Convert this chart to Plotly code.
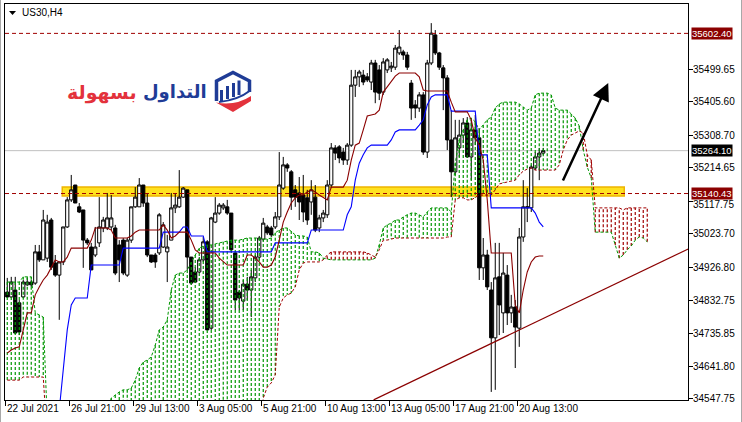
import plotly.graph_objects as go

# ---------------- data ----------------
BARS = list(range(135))

OPEN = [34856, 34842, 34862, 34825, 34842, 34877, 34885, 34882, 34972, 34949,
        34954, 35064, 34940, 34905, 34943, 35044, 35122, 35165, 35102, 35093,
        35006, 34986, 34963, 34998, 35041, 35041, 35044, 35041, 34992, 35006,
        34905, 35006, 35102, 35102, 35165, 35113, 34963, 34963, 34969, 34986,
        34972, 35006, 35099, 35102, 35130, 35151, 34957, 34914, 34914, 34949,
        35001, 34752, 35058, 35084, 35099, 35102, 35084, 34969, 34856, 34830,
        34879, 34862, 34897, 34957, 35009, 35044, 35041, 35044, 35073, 35156,
        35223, 35203, 35151, 35142, 35136, 35128, 35116, 35130, 35041, 35070,
        35079, 35165, 35272, 35275, 35260, 35237, 35280, 35453, 35477, 35482,
        35477, 35462, 35517, 35497, 35433, 35497, 35503, 35505, 35546, 35549,
        35540, 35459, 35396, 35387, 35425, 35260, 35517, 35598, 35546, 35503,
        35474, 35295, 35203, 35272, 35309, 35344, 35246, 35324, 35301, 34926,
        34963, 34862, 34724, 34900, 34796, 34905, 34796, 34813, 34752, 35015,
        35099, 35099, 35214, 35246, 35257]
HIGH = [34897, 34900, 34900, 34833, 34891, 34897, 34891, 34992, 34992, 35093,
        35079, 35070, 34963, 34943, 35044, 35130, 35194, 35165, 35113, 35093,
        35012, 34998, 35044, 35130, 35073, 35142, 35136, 35050, 35006, 35012,
        35012, 35102, 35159, 35185, 35165, 35142, 34963, 34969, 35084, 35058,
        35021, 35142, 35142, 35208, 35159, 35151, 34957, 34928, 34957, 35015,
        35006, 35073, 35130, 35113, 35113, 35122, 35084, 34969, 34862, 34891,
        34900, 34920, 34963, 35018, 35070, 35050, 35047, 35087, 35260, 35246,
        35228, 35208, 35165, 35188, 35194, 35151, 35179, 35165, 35079, 35093,
        35179, 35286, 35280, 35280, 35272, 35286, 35497, 35497, 35497, 35497,
        35488, 35526, 35526, 35511, 35531, 35531, 35520, 35569, 35612, 35555,
        35549, 35468, 35410, 35433, 35433, 35526, 35632, 35612, 35549, 35511,
        35482, 35381, 35353, 35353, 35358, 35361, 35353, 35367, 35329, 35012,
        34978, 34885, 34998, 34998, 34969, 34934, 34848, 34833, 35041, 35179,
        35156, 35223, 35260, 35272, 35272]
LOW = [34839, 34839, 34735, 34732, 34839, 34874, 34871, 34877, 34943, 34949,
       34943, 34920, 34900, 34776, 34934, 35041, 35116, 35113, 35084, 34926,
       34992, 34920, 34957, 34986, 35029, 35035, 35035, 34905, 34885, 34905,
       34900, 34998, 35099, 35102, 35102, 34957, 34940, 34926, 34963, 34983,
       34885, 35006, 35084, 35099, 35128, 34920, 34877, 34882, 34911, 34943,
       34747, 34747, 35055, 35079, 35093, 35079, 34972, 34804, 34804, 34804,
       34833, 34784, 34885, 34949, 35003, 35021, 35015, 35038, 35064, 35151,
       35203, 35093, 35102, 35064, 35058, 35050, 35079, 35029, 35029, 35058,
       35070, 35156, 35237, 35228, 35223, 35223, 35275, 35419, 35448, 35453,
       35462, 35439, 35401, 35410, 35425, 35488, 35491, 35497, 35540, 35526,
       35497, 35353, 35358, 35376, 35252, 35243, 35511, 35540, 35497, 35381,
       35266, 35130, 35194, 35246, 35286, 35243, 35179, 35280, 34891, 34891,
       34862, 34568, 34574, 34732, 34738, 34761, 34767, 34637, 34698, 35001,
       35058, 35087, 35208, 35179, 35252]
CLOSE = [34842, 34885, 34738, 34741, 34885, 34885, 34877, 34972, 34949, 35064,
         35058, 34928, 34905, 34943, 35044, 35122, 35151, 35113, 35087, 35006,
         34998, 34920, 34986, 35044, 35064, 35070, 35070, 34911, 34949, 34911,
         35006, 35102, 35130, 35165, 35113, 34963, 34943, 34943, 35079, 35050,
         34986, 35099, 35107, 35130, 35156, 34957, 34882, 34885, 34949, 35001,
         34747, 35070, 35084, 35107, 35107, 35084, 34978, 34833, 34839, 34879,
         34862, 34900, 34957, 35012, 35055, 35027, 35021, 35073, 35165, 35223,
         35214, 35130, 35130, 35116, 35087, 35064, 35151, 35035, 35070, 35084,
         35165, 35272, 35257, 35243, 35237, 35280, 35453, 35477, 35491, 35462,
         35468, 35517, 35433, 35430, 35520, 35526, 35508, 35560, 35563, 35540,
         35505, 35387, 35387, 35425, 35260, 35517, 35603, 35546, 35505, 35474,
         35295, 35203, 35301, 35309, 35344, 35246, 35324, 35301, 34926, 34963,
         34871, 34724, 34897, 34819, 34911, 34796, 34813, 34755, 35015, 35102,
         35102, 35217, 35246, 35257, 35264.1]

TENKAN = [34680, 34689, 34695, 34698, 34747, 34796, 34796, 34848, 34871, 34891,
          34905, 34926, 34949, 34943, 34943, 34957, 34983, 34983, 34983, 34983,
          34983, 35006, 35041, 35041, 35041, 35041, 35035, 35012, 35012, 35012,
          35012, 35018, 35029, 35035, 35035, 35035, 35035, 35035, 35035, 35050,
          35035, 35012, 35018, 35029, 35029, 35029, 35006, 34978, 34969, 34969,
          34969, 34969, 34969, 34954, 34943, 34934, 34934, 34934, 34934, 34934,
          34963, 34963, 34954, 34943, 34928, 34928, 34934, 34957, 35006, 35058,
          35087, 35113, 35128, 35136, 35136, 35145, 35151, 35145, 35136, 35128,
          35122, 35159, 35159, 35159, 35159, 35179, 35237, 35280, 35286, 35324,
          35364, 35367, 35370, 35381, 35433, 35448, 35462, 35479, 35488, 35488,
          35488, 35488, 35488, 35477, 35439, 35436, 35436, 35436, 35436, 35436,
          35436, 35404, 35376, 35376, 35376, 35376, 35353, 35301, 35280, 35237,
          35122, 34969, 34969, 34969, 34969, 34969, 34969, 34819, 34796, 34862,
          34914, 34943, 34957, 34960, 34960]
KIJUN = [34430, 34430, 34430, 34430, 34430, 34430, 34430, 34430, 34430, 34430,
         34430, 34430, 34458, 34516, 34632, 34747, 34819, 34839, 34839, 34839,
         34839, 34934, 34934, 34934, 34934, 34934, 34934, 34934, 34934, 34983,
         34983, 34983, 34983, 34983, 34983, 34983, 34983, 34983, 34983, 35029,
         35029, 35029, 35029, 35029, 35044, 35044, 35018, 35018, 35018, 35018,
         34972, 34972, 34972, 34972, 34972, 34972, 34972, 34972, 34972, 34972,
         34972, 34972, 34972, 34972, 34972, 34972, 34972, 34998, 34998, 34998,
         34998, 34998, 34998, 34998, 34998, 34998, 35035, 35035, 35035, 35035,
         35035, 35035, 35035, 35035, 35035, 35079, 35102, 35179, 35228, 35252,
         35272, 35280, 35280, 35280, 35280, 35280, 35295, 35318, 35324, 35324,
         35324, 35324, 35324, 35338, 35353, 35396, 35419, 35425, 35425, 35425,
         35425, 35378, 35378, 35378, 35378, 35378, 35378, 35378, 35252, 35252,
         35252, 35099, 35099, 35099, 35099, 35099, 35099, 35099, 35099, 35099,
         35099, 35099, 35084, 35058, 35044]

SENKOU_A = [34885, 34885, 34885, 34885, 34900, 34900, 34900, 34796, 34790, 34784,
            34487, 34487, 34487, 34487, 34487, 34487, 34487, 34487, 34487, 34487,
            34487, 34487, 34487, 34487, 34487, 34487, 34550, 34559, 34568, 34574,
            34574, 34579, 34602, 34637, 34654, 34660, 34669, 34703, 34747, 34755,
            34776, 34862, 34905, 34911, 34911, 34920, 34943, 34963, 34983, 34989,
            34992, 34992, 34995, 34998, 35001, 35003, 35006, 35006, 35006, 35009,
            35012, 35012, 35012, 35012, 35009, 35009, 35012, 35027, 35035, 35041,
            35041, 35032, 35021, 35018, 35018, 35015, 34972, 34972, 34969, 34954,
            34951, 34949, 34949, 34949, 34949, 34949, 34949, 34949, 34949, 34949,
            34949, 34949, 34954, 34992, 35041, 35050, 35055, 35064, 35064, 35073,
            35079, 35084, 35084, 35079, 35073, 35087, 35099, 35099, 35099, 35099,
            35099, 35087, 35228, 35295, 35324, 35353, 35358, 35347, 35324, 35338,
            35353, 35361, 35387, 35399, 35404, 35404, 35404, 35404, 35399, 35390,
            35381, 35387, 35425, 35430, 35430, 35430, 35425, 35387, 35381, 35381,
            35381, 35370, 35358, 35335, 35266, 35217, 35185, 35029, 35029, 35029,
            35029, 35029, 34992, 34954, 34963, 34978, 34989, 35006, 35015, 35012,
            35001]
SENKOU_B = [34602, 34602, 34602, 34602, 34611, 34611, 34611, 34611, 34611, 34611,
            34429, 34429, 34429, 34429, 34429, 34429, 34429, 34429, 34429, 34429,
            34429, 34429, 34429, 34429, 34429, 34429, 34429, 34429, 34429, 34429,
            34429, 34429, 34429, 34429, 34429, 34429, 34429, 34429, 34429, 34429,
            34429, 34429, 34429, 34429, 34429, 34429, 34429, 34429, 34429, 34429,
            34429, 34429, 34429, 34429, 34429, 34429, 34429, 34429, 34429, 34429,
            34429, 34429, 34429, 34429, 34550, 34582, 34594, 34617, 34813, 34839,
            34848, 34853, 34871, 34920, 34940, 34943, 34943, 34943, 34943, 34949,
            34963, 34972, 34972, 34972, 34972, 34972, 34972, 34972, 34972, 34972,
            34969, 34963, 34957, 34978, 35006, 35006, 35009, 35012, 35012, 35012,
            35012, 35012, 35012, 35012, 35012, 35012, 35012, 35012, 35012, 35012,
            35015, 35015, 35122, 35128, 35128, 35122, 35122, 35128, 35136, 35136,
            35136, 35136, 35151, 35168, 35171, 35174, 35177, 35179, 35194, 35205,
            35211, 35214, 35208, 35208, 35208, 35208, 35208, 35208, 35223, 35266,
            35295, 35309, 35315, 35321, 35315, 35252, 35237, 35099, 35099, 35099,
            35099, 35099, 35099, 35099, 35093, 35099, 35099, 35099, 35099, 35099,
            35099]

TIME_LABEL_BARS = [0, 16, 32, 48, 64, 80, 96, 112, 128]
TIME_LABELS = ["22 Jul 2021", "26 Jul 21:00", "29 Jul 13:00", "3 Aug 05:00",
               "5 Aug 21:00", "10 Aug 13:00", "13 Aug 05:00", "17 Aug 21:00",
               "20 Aug 13:00"]
PRICE_TICKS = [35499.65, 35405.60, 35308.70, 35214.65, 35117.75,
               35023.70, 34926.80, 34832.75, 34735.85, 34641.80, 34547.75]

RESISTANCE = 35602.40
SUPPORT = 35140.43
BID = 35264.10
ZONE_BARS = [13.75, 154.25]
ZONE_PRICES = [35133, 35159]
TREND_BARS = [91.6, 170.25]
TREND_PRICES = [34545, 34980.5]
ARROW_BARS = [138.75, 150.25]
ARROW_PRICES = [35173.6, 35459.2]
X_RANGE = [-0.5625, 170.1875]
Y_RANGE = [34544.7, 35687.2]

# ---------------- styles ----------------
FONT = "Liberation Sans"
AXIS_SIZE = 10
GREEN = "rgb(0,150,0)"
DRED = "rgb(139,0,0)"
LRED = "rgb(160,0,0)"
BLUE = "rgb(0,0,255)"
DOT = "3px,2px"

W, H = 742, 422
ML, MR, MT, MB = 5, 54, 4, 22
PW, PH = W - ML - MR, H - MT - MB


def px(x):
    return (x - ML) / PW


def py(y):
    return 1 - (y - MT) / PH


fig = go.Figure()


def hatch(up):
    xs, ys = [], []
    for i, (a, b) in enumerate(zip(SENKOU_A, SENKOU_B)):
        if (a >= b) == up:
            xs += [i, i, None]
            ys += [a, b, None]
    return xs, ys


fig.add_trace(go.Candlestick(
    x=BARS, open=OPEN, high=HIGH, low=LOW, close=CLOSE,
    increasing=dict(line=dict(color="black", width=1), fillcolor="white"),
    decreasing=dict(line=dict(color="black", width=1), fillcolor="black"),
    whiskerwidth=0, hoverinfo="skip", showlegend=False, name="price"))

hx, hy = hatch(True)
fig.add_trace(go.Scatter(x=hx, y=hy, mode="lines", name="cloud up",
                         line=dict(color=GREEN, width=1.2, dash=DOT),
                         hoverinfo="skip", showlegend=False))
hx, hy = hatch(False)
fig.add_trace(go.Scatter(x=hx, y=hy, mode="lines", name="cloud down",
                         line=dict(color=LRED, width=1.2, dash=DOT),
                         hoverinfo="skip", showlegend=False))

cloud_x = list(range(len(SENKOU_A)))
fig.add_trace(go.Scatter(x=cloud_x, y=SENKOU_A, mode="lines", name="span A",
                         line=dict(color=GREEN, width=1, dash=DOT),
                         hoverinfo="skip", showlegend=False))
fig.add_trace(go.Scatter(x=cloud_x, y=SENKOU_B, mode="lines", name="span B",
                         line=dict(color=LRED, width=1, dash=DOT),
                         hoverinfo="skip", showlegend=False))
fig.add_trace(go.Scatter(x=BARS, y=KIJUN, mode="lines", name="kijun",
                         line=dict(color=BLUE, width=1.1),
                         hoverinfo="skip", showlegend=False))
fig.add_trace(go.Scatter(x=BARS, y=TENKAN, mode="lines", name="tenkan",
                         line=dict(color=DRED, width=1.1),
                         hoverinfo="skip", showlegend=False))

shapes = []
# highlighted zone
shapes.append(dict(type="rect", xref="x", yref="y", x0=ZONE_BARS[0], x1=ZONE_BARS[1],
                   y0=ZONE_PRICES[0], y1=ZONE_PRICES[1], fillcolor="#FFE21F",
                   line=dict(color="#EEB400", width=1.5), layer="below"))
# bid line
shapes.append(dict(type="line", xref="paper", yref="y", x0=0, x1=1, y0=BID, y1=BID,
                   line=dict(color="#C0C0C0", width=1), layer="below"))
for lvl in (RESISTANCE, SUPPORT):
    shapes.append(dict(type="line", xref="paper", yref="y", x0=0, x1=1, y0=lvl, y1=lvl,
                       line=dict(color=LRED, width=1, dash="4px,3px"), layer="above"))
# trend line
shapes.append(dict(type="line", xref="x", yref="y", x0=TREND_BARS[0], x1=TREND_BARS[1],
                   y0=TREND_PRICES[0], y1=TREND_PRICES[1],
                   line=dict(color=DRED, width=1.2), layer="above"))


def path(points, close=False):
    s = "M " + " L ".join(f"{px(a):.5f},{py(b):.5f}" for a, b in points)
    return s + (" Z" if close else "")


# window frame edges
for xe in (0.5, 741.5):
    shapes.append(dict(type="line", xref="paper", yref="paper", x0=px(xe), x1=px(xe),
                       y0=py(0), y1=py(H), line=dict(color="#A8A8A8", width=1)))

# title triangle
shapes.append(dict(type="path", xref="paper", yref="paper",
                   path=path([(9, 11), (16, 11), (12.5, 15)], True),
                   fillcolor="black", line=dict(width=0)))

# logo icon
LOGO_BLUE = "#1F3C96"
LOGO_RED = "#E3323C"
shapes.append(dict(type="path", xref="paper", yref="paper",
                   path=path([(216.5, 101), (216.5, 81), (233, 72.5), (249.5, 81), (249.5, 92)]),
                   line=dict(color=LOGO_BLUE, width=3.5)))
for (x0, x1, y0, y1) in ((220, 223, 90, 101), (226, 229, 86, 99), (232, 235, 83, 97), (237.5, 240.5, 80.5, 95)):
    shapes.append(dict(type="rect", xref="paper", yref="paper", x0=px(x0), x1=px(x1),
                       y0=py(y1), y1=py(y0), fillcolor=LOGO_BLUE, line=dict(width=0)))
shapes.append(dict(type="path", xref="paper", yref="paper",
                   path=f"M {px(249.5):.5f},{py(91):.5f} Q {px(238):.5f},{py(100):.5f} {px(219):.5f},{py(102):.5f}",
                   line=dict(color=LOGO_BLUE, width=2)))
shapes.append(dict(type="path", xref="paper", yref="paper",
                   path=f"M {px(216):.5f},{py(102.5):.5f} Q {px(236):.5f},{py(106):.5f} {px(251):.5f},{py(96):.5f} "
                        f"L {px(251):.5f},{py(101):.5f} L {px(233):.5f},{py(112):.5f} Z",
                   fillcolor=LOGO_RED, line=dict(width=0)))

annotations = []
for b, t in zip(TIME_LABEL_BARS, TIME_LABELS):
    annotations.append(dict(x=b - 0.5, xref="x", y=0, yref="paper", text=t,
                            showarrow=False, xanchor="left", yanchor="top",
                            xshift=0, yshift=-1,
                            font=dict(family=FONT, size=AXIS_SIZE, color="black")))

# price scale labels (as text so one partially hidden label can sit just under the box)
for v in PRICE_TICKS:
    annotations.append(dict(x=1, xref="paper", y=v, yref="y", text=f"{v:.2f}",
                            showarrow=False, xanchor="left", yanchor="middle",
                            xshift=3, yshift=-3 if v == 35117.75 else 0,
                            font=dict(family=FONT, size=AXIS_SIZE, color="black")))

for lvl, bg in ((RESISTANCE, DRED), (BID, "black"), (SUPPORT, DRED)):
    annotations.append(dict(x=1, xref="paper", y=lvl, yref="y", text=f"{lvl:.2f}",
                            showarrow=False, xanchor="left", yanchor="middle", xshift=3,
                            bgcolor=bg, borderpad=0,
                            font=dict(family=FONT, size=AXIS_SIZE - 0.5, color="white")))

annotations.append(dict(x=px(20), y=py(13), xref="paper", yref="paper", text="US30,H4",
                        showarrow=False, xanchor="left", yanchor="middle",
                        font=dict(family=FONT, size=AXIS_SIZE, color="black")))

annotations.append(dict(x=px(209), y=py(92), xref="paper", yref="paper", text="<b>التداول</b>",
                        showarrow=False, xanchor="right", yanchor="middle",
                        font=dict(family="DejaVu Sans", size=18, color=LOGO_BLUE)))
annotations.append(dict(x=px(139), y=py(92), xref="paper", yref="paper", text="<b>بسهولة</b>",
                        showarrow=False, xanchor="right", yanchor="middle",
                        font=dict(family="DejaVu Sans", size=19, color=LOGO_RED)))

annotations.append(dict(x=ARROW_BARS[1], y=ARROW_PRICES[1], xref="x", yref="y",
                        ax=ARROW_BARS[0], ay=ARROW_PRICES[0], axref="x", ayref="y",
                        text="", showarrow=True, arrowhead=2, arrowsize=1.4,
                        arrowwidth=2.5, arrowcolor="black"))

fig.update_layout(
    width=W, height=H, margin=dict(l=ML, r=MR, t=MT, b=MB, autoexpand=False),
    paper_bgcolor="white", plot_bgcolor="white", showlegend=False, hovermode=False,
    font=dict(family=FONT, size=AXIS_SIZE, color="black"),
    boxgap=0.2, boxgroupgap=0,
    xaxis=dict(range=X_RANGE, showgrid=False, zeroline=False, showline=True,
               linecolor="black", linewidth=1, mirror=True, ticks="outside", ticklen=5,
               tickcolor="black", tickvals=[b - 0.5 for b in TIME_LABEL_BARS],
               showticklabels=False, rangeslider=dict(visible=False), fixedrange=True),
    yaxis=dict(range=Y_RANGE, side="right", showgrid=False, zeroline=False, showline=True,
               linecolor="black", linewidth=1, mirror=True, ticks="outside", ticklen=4,
               tickcolor="black", tickvals=PRICE_TICKS, showticklabels=False,
               fixedrange=True),
    shapes=shapes, annotations=annotations,
)

fig.write_html("out.html", post_script="document.body.style.margin='0';",
               config={"displayModeBar": False})
